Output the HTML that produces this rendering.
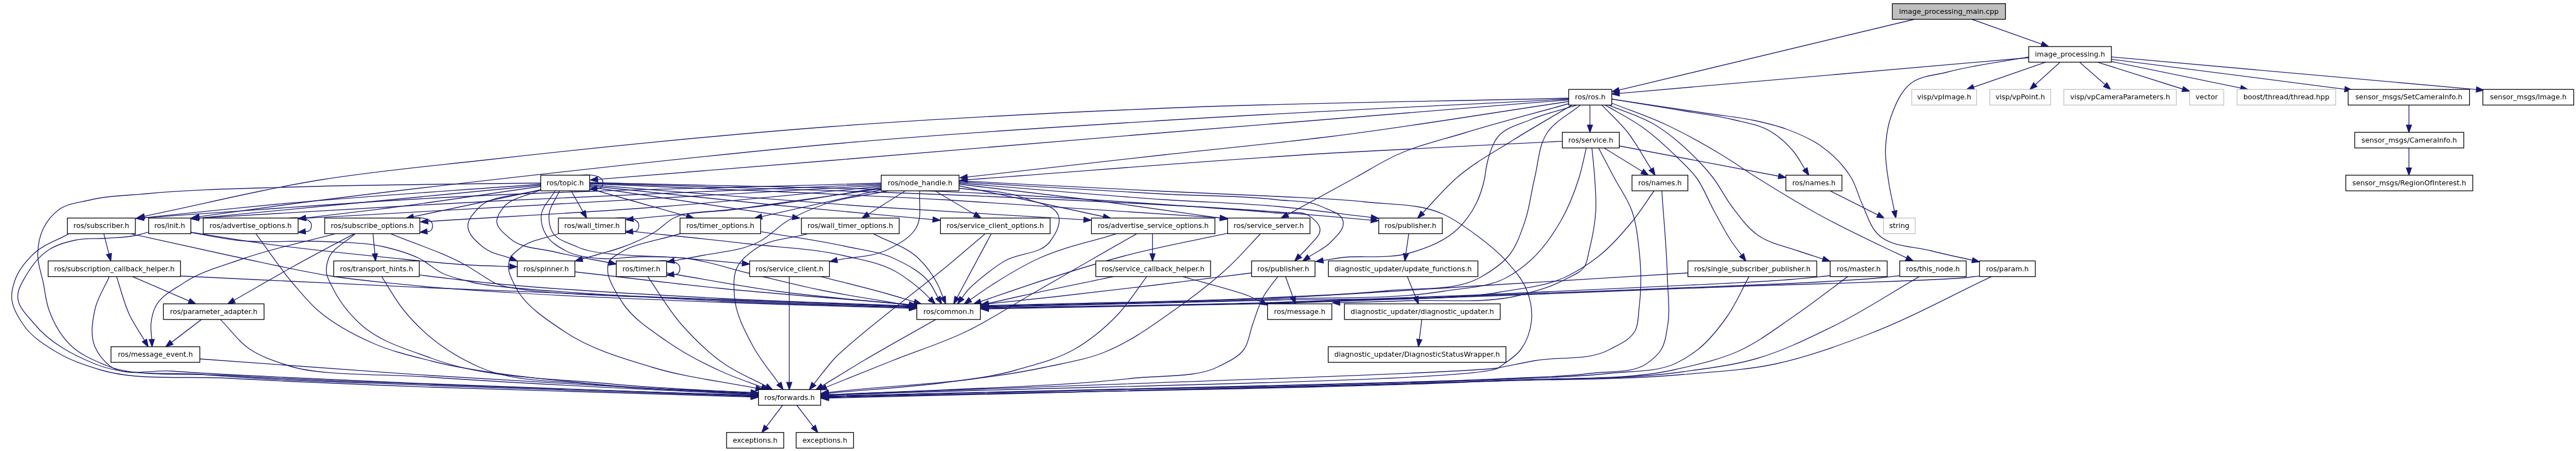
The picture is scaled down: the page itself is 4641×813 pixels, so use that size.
<!DOCTYPE html><html><head><meta charset="utf-8"><title>image_processing_main.cpp include graph</title>
<style>html,body{margin:0;padding:0;background:#fff}svg{display:block;will-change:transform}text{font-family:"DejaVu Sans","Liberation Sans",sans-serif;font-size:12.7px;fill:#000;text-anchor:middle}.e{fill:none;stroke:#191970;stroke-width:1.33}.a{fill:#191970;stroke:#191970;stroke-width:1.33;stroke-linejoin:miter}.n{fill:#fff;stroke:#000;stroke-width:1.33}.g{fill:#fff;stroke:#bfbfbf;stroke-width:1.33}.r{fill:#bfbfbf;stroke:#000;stroke-width:1.33}</style></head><body>
<svg width="4641" height="813" viewBox="0 0 4641 813">
<path class="e" d="M3448.0,35.0L2916.9,162.4"/>
<polygon class="a" points="2915.8,157.8 2904.0,165.5 2918.0,167.0"/>
<path class="e" d="M3553.0,35.0L3678.5,79.6"/>
<polygon class="a" points="3676.9,84.1 3691.0,84.1 3680.0,75.2"/>
<path class="e" d="M3655.0,104.0L2917.2,168.3"/>
<polygon class="a" points="2916.8,163.7 2904.0,169.5 2917.7,173.0"/>
<path class="e" d="M3655.0,102.6C3606.0,111.7 3556.1,117.1 3508.0,130.0C3486.1,135.9 3460.9,136.1 3443.0,150.0C3424.6,164.3 3414.8,188.0 3407.0,210.0C3400.2,229.1 3397.7,249.7 3397.0,270.0C3396.4,290.1 3400.0,310.1 3403.0,330.0C3405.6,346.9 3409.7,363.5 3413.0,380.3"/>
<polygon class="a" points="3408.4,381.2 3415.6,393.3 3417.6,379.3"/>
<path class="e" d="M3685.5,112.1L3555.6,157.1"/>
<polygon class="a" points="3554.0,152.6 3543.0,161.4 3557.1,161.5"/>
<path class="e" d="M3711.6,112.1L3666.9,152.5"/>
<polygon class="a" points="3663.7,149.0 3657.0,161.4 3670.0,156.0"/>
<path class="e" d="M3746.5,112.1L3792.7,152.6"/>
<polygon class="a" points="3789.6,156.2 3802.7,161.4 3795.8,149.1"/>
<path class="e" d="M3779.0,112.1L3932.3,160.5"/>
<polygon class="a" points="3930.9,165.0 3945.0,164.5 3933.7,156.0"/>
<path class="e" d="M3800.0,110.0L4037.0,158.7"/>
<polygon class="a" points="4036.0,163.3 4050.0,161.4 4037.9,154.1"/>
<path class="e" d="M3804.0,106.8L4224.5,160.8"/>
<polygon class="a" points="4223.9,165.5 4237.7,162.5 4225.1,156.1"/>
<path class="e" d="M3804.0,102.6L4461.6,161.3"/>
<polygon class="a" points="4461.1,166.0 4474.8,162.5 4462.0,156.6"/>
<path class="e" d="M4340.0,189.4L4340.0,225.4"/>
<polygon class="a" points="4335.3,225.4 4340.0,238.7 4344.7,225.4"/>
<path class="e" d="M4340.0,266.7L4340.0,302.7"/>
<polygon class="a" points="4335.3,302.7 4340.0,316.0 4344.7,302.7"/>
<path class="e" d="M2826.0,177.0C2583.3,183.0 2340.5,185.0 2098.0,195.0C1898.5,203.3 1699.1,213.0 1500.0,228.0C1292.3,243.7 1085.0,264.7 878.0,288.0C778.2,299.2 678.1,308.0 579.0,324.0C471.8,341.3 366.4,367.9 260.0,389.8"/>
<polygon class="a" points="259.1,385.2 247.0,392.5 261.0,394.4"/>
<path class="e" d="M2826.0,178.5C2583.3,191.3 2340.5,201.8 2098.0,217.0C1898.6,229.5 1699.1,241.8 1500.0,259.5C1332.4,274.4 1165.2,293.0 998.0,311.6C838.2,329.4 647.3,351.4 519.0,368.5C465.5,375.6 412.1,383.3 358.7,390.7"/>
<polygon class="a" points="358.0,386.0 345.5,392.5 359.3,395.3"/>
<path class="e" d="M2826.0,180.0C2583.3,199.7 2340.6,219.0 2098.0,239.0C1898.6,255.4 1699.4,272.6 1500.0,289.0C1358.9,300.6 1217.8,311.9 1076.8,323.4"/>
<polygon class="a" points="1076.4,318.7 1063.5,324.5 1077.1,328.1"/>
<path class="e" d="M2826.0,183.0C2683.3,204.0 2541.1,228.1 2398.0,246.0C2298.2,258.5 2198.0,267.9 2098.0,279.0C1979.6,292.2 1861.1,305.7 1742.7,319.1"/>
<polygon class="a" points="1742.2,314.4 1729.5,320.6 1743.2,323.8"/>
<path class="e" d="M2826.0,187.0C2763.0,204.7 2699.5,220.8 2637.0,240.0C2596.8,252.4 2555.3,261.7 2517.0,279.0C2491.0,290.8 2467.0,306.3 2442.0,320.0C2401.2,342.3 2360.4,364.6 2319.7,386.9"/>
<polygon class="a" points="2317.4,382.8 2308.0,393.3 2321.9,391.0"/>
<path class="e" d="M2832.0,189.4C2797.0,210.3 2761.5,230.3 2727.0,252.0C2692.4,273.8 2655.9,293.3 2625.0,320.0C2602.6,339.3 2583.8,362.5 2563.3,383.7"/>
<polygon class="a" points="2559.9,380.5 2554.0,393.3 2566.6,387.0"/>
<path class="e" d="M2841.0,189.4C2813.0,198.3 2784.0,204.5 2757.0,216.0C2737.4,224.3 2714.2,229.1 2700.0,245.0C2686.9,259.8 2681.3,284.2 2678.0,300.0C2676.6,306.6 2676.3,313.4 2675.0,320.0C2671.8,335.9 2666.6,353.0 2659.0,368.0C2650.8,384.2 2640.0,399.3 2627.0,412.0C2603.7,434.7 2571.2,446.7 2540.0,456.0C2501.6,467.4 2449.2,460.2 2420.0,464.0C2407.8,465.6 2395.8,467.7 2383.6,469.5"/>
<polygon class="a" points="2382.9,464.9 2370.5,471.5 2384.4,474.2"/>
<path class="e" d="M2847.0,189.4C2827.0,206.3 2801.3,218.1 2787.0,240.0C2771.9,263.2 2771.7,293.2 2765.0,320.0C2758.4,346.5 2756.1,374.2 2747.0,400.0C2739.6,420.8 2732.8,442.8 2719.0,460.0C2705.3,477.0 2686.0,489.2 2667.0,500.0C2621.3,525.8 2555.9,518.1 2500.0,524.0C2433.6,531.0 2366.7,532.6 2300.0,536.0C2139.9,544.2 1953.9,545.8 1780.8,550.6"/>
<polygon class="a" points="1780.7,545.9 1767.5,551.0 1780.9,555.3"/>
<path class="e" d="M2864.5,189.4L2864.5,225.4"/>
<polygon class="a" points="2859.8,225.4 2864.5,238.7 2869.2,225.4"/>
<path class="e" d="M2886.0,189.4C2901.3,205.6 2918.1,220.5 2932.0,238.0C2948.5,258.7 2960.5,282.5 2974.8,304.8"/>
<polygon class="a" points="2970.9,307.3 2982.0,316.0 2978.8,302.3"/>
<path class="e" d="M2892.0,189.4C2914.7,202.9 2938.6,214.5 2960.0,230.0C2981.4,245.5 3001.1,263.5 3020.0,282.0C3032.5,294.2 3045.6,306.0 3056.0,320.0C3069.6,338.2 3077.0,360.2 3088.0,380.0C3098.4,398.8 3107.9,418.2 3120.0,436.0C3125.6,444.2 3131.7,451.9 3137.6,459.9"/>
<polygon class="a" points="3133.8,462.7 3145.5,470.6 3141.4,457.1"/>
<path class="e" d="M2898.0,189.4C2925.3,200.9 2954.5,208.8 2980.0,224.0C3004.9,238.8 3027.2,257.8 3048.0,278.0C3061.5,291.2 3074.4,305.1 3086.0,320.0C3098.7,336.3 3107.4,355.5 3120.0,372.0C3134.2,390.6 3147.9,410.5 3167.0,424.0C3188.0,438.9 3214.7,443.5 3239.0,452.0C3254.0,457.3 3269.2,461.9 3284.4,466.9"/>
<polygon class="a" points="3282.9,471.3 3297.0,471.0 3285.8,462.4"/>
<path class="e" d="M2904.0,186.0C2936.0,198.7 2968.8,209.6 3000.0,224.0C3034.4,239.9 3067.5,258.5 3100.0,278.0C3122.1,291.3 3143.2,306.3 3165.0,320.0C3202.5,343.5 3240.2,366.8 3279.0,388.0C3318.2,409.5 3370.3,434.3 3399.0,448.0C3411.0,453.7 3423.0,459.3 3435.0,464.9"/>
<polygon class="a" points="3433.0,469.2 3447.0,470.6 3437.0,460.7"/>
<path class="e" d="M2904.0,178.7C2949.3,186.1 2994.7,193.3 3040.0,201.0C3066.7,205.6 3093.7,208.5 3120.0,215.0C3143.7,220.9 3169.0,224.4 3190.0,237.0C3206.0,246.6 3220.3,259.5 3232.0,274.0C3239.7,283.5 3245.2,294.5 3251.8,304.8"/>
<polygon class="a" points="3247.9,307.4 3259.0,316.0 3255.8,302.3"/>
<path class="e" d="M2904.0,178.7C2962.7,187.5 3021.3,196.2 3080.0,205.0C3106.7,209.0 3133.7,211.2 3160.0,217.0C3179.9,221.3 3199.9,225.9 3219.0,233.0C3239.8,240.7 3260.8,249.3 3279.0,262.0C3293.7,272.2 3307.5,284.3 3319.0,298.0C3324.8,304.9 3330.3,312.3 3335.0,320.0C3344.0,334.8 3347.7,352.3 3355.0,368.0C3363.5,386.4 3368.9,407.5 3383.0,422.0C3406.4,446.0 3446.6,443.4 3479.0,452.0C3503.6,458.5 3528.6,463.4 3553.4,469.0"/>
<polygon class="a" points="3552.4,473.6 3566.4,472.0 3554.5,464.5"/>
<path class="e" d="M2814.7,254.7C2675.8,261.8 2536.8,267.7 2398.0,276.0C2179.4,289.1 1961.2,308.0 1742.8,324.0"/>
<polygon class="a" points="1742.4,319.3 1729.5,325.0 1743.1,328.7"/>
<path class="e" d="M2890.0,266.7L2958.7,309.0"/>
<polygon class="a" points="2956.2,313.0 2970.0,316.0 2961.1,305.0"/>
<path class="e" d="M2917.0,263.0L3204.4,317.5"/>
<polygon class="a" points="3203.6,322.1 3217.5,320.0 3205.3,312.9"/>
<path class="e" d="M2858.0,266.7C2853.7,284.5 2850.4,302.5 2845.0,320.0C2836.4,347.7 2825.6,375.0 2811.0,400.0C2796.6,424.6 2780.1,448.7 2759.0,468.0C2745.6,480.2 2730.9,491.3 2715.0,500.0C2680.5,518.8 2638.7,518.5 2600.0,525.0C2507.2,540.6 2400.0,535.1 2300.0,539.0C2127.0,545.8 1953.9,548.1 1780.8,552.7"/>
<polygon class="a" points="1780.7,548.0 1767.5,553.0 1780.9,557.3"/>
<path class="e" d="M2868.0,266.7C2869.7,284.5 2871.8,302.2 2873.0,320.0C2874.3,340.0 2876.1,360.0 2875.0,380.0C2873.6,404.3 2868.7,429.4 2863.0,452.0C2860.6,461.4 2860.1,471.8 2855.0,480.0C2847.4,492.2 2831.6,497.0 2819.0,504.0C2794.3,517.6 2766.4,525.0 2739.0,532.0C2674.7,548.5 2606.4,539.5 2540.0,542.0C2498.0,543.6 2455.9,544.4 2413.9,545.6"/>
<polygon class="a" points="2413.8,540.9 2400.6,546.0 2414.0,550.3"/>
<path class="e" d="M2880.0,266.7C2889.3,284.5 2898.6,302.3 2908.0,320.0C2918.6,340.0 2932.4,358.6 2940.0,380.0C2947.9,402.4 2950.4,426.4 2953.0,450.0C2956.9,485.1 2957.1,523.8 2953.0,556.0C2951.3,569.4 2952.3,584.0 2946.0,596.0C2937.1,612.9 2916.8,621.0 2900.0,630.0C2860.2,651.4 2810.4,642.0 2766.0,650.0C2743.9,654.0 2722.0,658.8 2700.0,663.0C2647.1,673.0 1895.2,695.3 1492.8,711.5"/>
<polygon class="a" points="1492.6,706.8 1479.5,712.0 1493.0,716.2"/>
<path class="e" d="M2980.0,344.0C2966.7,362.7 2954.5,382.3 2940.0,400.0C2921.8,422.2 2902.6,444.2 2880.0,462.0C2861.2,476.8 2840.7,489.9 2819.0,500.0C2782.1,517.1 2740.0,519.7 2700.0,527.0C2603.9,544.4 2433.4,536.9 2300.0,541.0C2127.0,546.3 1953.9,549.5 1780.8,553.7"/>
<polygon class="a" points="1780.7,549.0 1767.5,554.0 1780.9,558.4"/>
<path class="e" d="M2994.0,344.0C2997.3,396.0 3002.8,447.9 3004.0,500.0C3004.7,530.0 3009.5,560.5 3004.0,590.0C3001.5,603.6 3000.2,618.2 2993.0,630.0C2986.5,640.7 2976.3,648.9 2966.0,656.0C2941.4,673.1 2899.5,668.7 2866.0,673.0C2811.0,680.0 2755.3,679.9 2700.0,683.0C2567.2,690.4 1895.2,703.4 1492.8,713.7"/>
<polygon class="a" points="1492.7,709.0 1479.5,714.0 1492.9,718.4"/>
<path class="e" d="M3297.0,344.0L3383.1,387.3"/>
<polygon class="a" points="3381.0,391.5 3395.0,393.3 3385.2,383.1"/>
<path class="e" d="M3041.0,492.0C2927.3,499.0 2813.7,506.1 2700.0,513.0C2566.7,521.1 2433.4,530.8 2300.0,537.0C2127.0,545.0 1953.9,546.8 1780.8,551.6"/>
<polygon class="a" points="1780.7,546.9 1767.5,552.0 1780.9,556.3"/>
<path class="e" d="M3151.0,498.6C3138.0,522.4 3127.6,547.8 3112.0,570.0C3096.7,591.8 3080.0,613.5 3059.0,630.0C3046.6,639.7 3033.2,648.2 3019.0,655.0C2984.9,671.2 2939.9,668.4 2900.0,673.0C2833.7,680.6 2766.7,680.6 2700.0,684.0C2540.0,692.1 1895.2,704.4 1492.8,714.7"/>
<polygon class="a" points="1492.7,710.0 1479.5,715.0 1492.9,719.4"/>
<path class="e" d="M3297.0,497.0C3274.7,499.2 3252.4,501.6 3230.0,503.5C3176.3,508.1 3112.7,510.4 3054.0,513.5C2936.0,519.8 2818.0,525.0 2700.0,530.0C2566.7,535.6 2433.4,541.1 2300.0,545.0C2127.0,550.1 1953.9,551.5 1780.8,554.8"/>
<polygon class="a" points="1780.7,550.1 1767.5,555.0 1780.9,559.4"/>
<path class="e" d="M3329.0,498.6C3296.7,522.4 3265.2,547.4 3232.0,570.0C3199.4,592.2 3167.9,616.8 3132.0,633.0C3096.2,649.1 3057.3,657.3 3019.0,666.0C2927.2,687.0 2806.4,680.2 2700.0,686.0C2444.7,700.0 1895.2,705.8 1492.8,715.7"/>
<polygon class="a" points="1492.7,711.0 1479.5,716.0 1492.9,720.4"/>
<path class="e" d="M3422.6,497.0C3411.7,498.2 3400.9,499.4 3390.0,500.5C3363.9,503.1 3319.4,505.9 3284.0,508.0C3240.0,510.6 3196.0,512.1 3152.0,514.0C3046.4,518.6 2850.7,525.9 2700.0,531.5C2566.7,536.5 2433.4,542.2 2300.0,546.0C2127.0,551.0 1953.9,552.5 1780.8,555.8"/>
<polygon class="a" points="1780.7,551.1 1767.5,556.0 1780.9,560.4"/>
<path class="e" d="M3458.0,498.6C3405.0,529.1 3354.0,563.3 3299.0,590.0C3255.7,611.0 3212.2,632.5 3166.0,646.0C3122.8,658.7 3077.6,663.7 3033.0,670.0C2926.0,685.2 2811.0,681.2 2700.0,686.0C2433.5,697.5 1895.2,706.4 1492.8,716.7"/>
<polygon class="a" points="1492.7,712.0 1479.5,717.0 1492.9,721.4"/>
<path class="e" d="M3566.4,497.6C3555.9,498.7 3545.5,500.0 3535.0,501.0C3509.8,503.4 3455.7,505.3 3416.0,507.0C3372.0,508.9 3328.0,510.1 3284.0,511.5C3240.0,512.9 3196.0,514.1 3152.0,515.5C3046.4,518.9 2850.7,527.5 2700.0,533.0C2566.7,537.9 2433.4,543.3 2300.0,547.0C2127.0,551.8 1953.9,553.5 1780.8,556.8"/>
<polygon class="a" points="1780.7,552.1 1767.5,557.0 1780.9,561.4"/>
<path class="e" d="M3588.0,498.6C3513.7,533.4 3441.7,573.9 3365.0,603.0C3310.7,623.6 3255.8,643.9 3199.0,656.0C3144.5,667.6 3088.5,670.1 3033.0,675.0C2922.4,684.8 2811.0,683.3 2700.0,687.0C2433.6,696.0 1895.2,707.4 1492.8,717.7"/>
<polygon class="a" points="1492.7,713.0 1479.5,718.0 1492.9,722.4"/>
<path class="e" d="M2538.0,421.3L2532.9,457.4"/>
<polygon class="a" points="2528.2,456.8 2531.0,470.6 2537.5,458.1"/>
<path class="e" d="M2535.5,498.6L2550.5,535.6"/>
<polygon class="a" points="2546.1,537.3 2555.5,547.9 2554.9,533.8"/>
<path class="e" d="M2561.5,575.9L2557.1,612.0"/>
<polygon class="a" points="2552.4,611.4 2555.5,625.2 2561.8,612.6"/>
<path class="e" d="M2254.8,492.0C2196.5,499.3 2138.3,506.9 2080.0,514.0C2020.0,521.3 1960.0,528.4 1900.0,535.0C1860.3,539.4 1820.5,543.4 1780.7,547.6"/>
<polygon class="a" points="1780.2,542.9 1767.5,549.0 1781.2,552.3"/>
<path class="e" d="M2302.0,498.6C2293.3,510.7 2283.2,522.0 2276.0,535.0C2267.5,550.3 2263.0,567.6 2257.0,584.0C2251.4,599.2 2250.6,616.9 2241.0,630.0C2230.0,644.9 2211.4,652.5 2195.0,661.0C2155.5,681.3 2091.1,676.2 2039.0,682.0C1926.5,694.5 1813.1,697.5 1700.0,703.0C1631.0,706.4 1561.9,708.6 1492.8,711.5"/>
<polygon class="a" points="1492.6,706.8 1479.5,712.0 1493.0,716.2"/>
<path class="e" d="M2316.0,498.6L2329.4,535.4"/>
<polygon class="a" points="2325.0,537.0 2334.0,547.9 2333.9,533.8"/>
<path class="e" d="M2212.0,420.4C2150.3,433.9 2088.1,444.9 2027.0,461.0C1974.5,474.8 1922.7,491.2 1871.0,508.0C1836.0,519.4 1801.4,531.7 1766.6,543.6"/>
<polygon class="a" points="1765.1,539.2 1754.0,547.9 1768.1,548.1"/>
<path class="e" d="M2271.0,421.3C2252.3,440.9 2234.7,461.5 2215.0,480.0C2184.6,508.6 2151.2,534.0 2117.0,558.0C2075.7,587.1 2034.2,617.9 1987.0,636.0C1953.6,648.8 1917.9,654.5 1883.0,662.0C1822.7,674.9 1761.2,682.4 1700.0,690.0C1631.2,698.5 1561.8,702.5 1492.7,708.8"/>
<polygon class="a" points="1492.3,704.1 1479.5,710.0 1493.2,713.5"/>
<path class="e" d="M2076.4,421.3L2076.4,457.3"/>
<polygon class="a" points="2071.7,457.3 2076.4,470.6 2081.1,457.3"/>
<path class="e" d="M2011.5,421.3C1964.7,436.2 1915.6,445.3 1871.0,466.0C1841.1,479.9 1812.7,497.1 1785.0,515.0C1772.4,523.1 1760.3,531.9 1748.0,540.4"/>
<polygon class="a" points="1745.3,536.5 1737.0,547.9 1750.6,544.3"/>
<path class="e" d="M2048.0,421.3C2019.7,437.5 1991.3,453.7 1963.0,470.0C1928.3,489.9 1893.7,510.1 1859.0,530.0C1819.4,552.8 1781.2,578.2 1740.0,598.0C1697.4,618.5 1651.9,632.5 1608.0,650.0C1568.1,665.9 1528.2,682.0 1488.3,698.0"/>
<polygon class="a" points="1486.6,693.7 1476.0,703.0 1490.1,702.4"/>
<path class="e" d="M2006.0,498.6C1950.7,510.2 1887.7,522.9 1840.0,533.5C1820.1,537.9 1800.3,542.5 1780.5,547.0"/>
<polygon class="a" points="1779.4,542.5 1767.5,550.0 1781.5,551.6"/>
<path class="e" d="M2066.0,498.6C2048.3,521.7 2033.2,547.1 2013.0,568.0C1989.9,591.9 1963.9,613.6 1935.0,630.0C1903.0,648.1 1866.3,656.6 1831.0,667.0C1746.3,692.0 1605.5,693.9 1492.7,707.4"/>
<polygon class="a" points="1492.1,702.8 1479.5,709.0 1493.3,712.1"/>
<path class="e" d="M2131.0,498.6C2170.7,510.2 2232.1,525.4 2250.0,533.5C2257.4,536.9 2264.7,540.6 2272.0,544.2"/>
<polygon class="a" points="2270.0,548.4 2284.0,550.0 2274.1,540.0"/>
<path class="e" d="M1786.0,421.3L1724.3,536.2"/>
<polygon class="a" points="1720.2,534.0 1718.0,547.9 1728.4,538.4"/>
<path class="e" d="M1775.0,421.3C1756.0,437.5 1737.1,453.8 1718.0,470.0C1672.3,508.8 1528.0,617.2 1500.0,650.0C1488.3,663.7 1477.5,678.1 1466.3,692.1"/>
<polygon class="a" points="1462.6,689.2 1458.0,702.5 1470.0,695.1"/>
<path class="e" d="M1684.5,344.0L1756.2,386.5"/>
<polygon class="a" points="1753.8,390.6 1767.6,393.3 1758.6,382.5"/>
<path class="e" d="M1726.0,339.0C1765.7,345.0 1807.8,342.1 1845.0,357.0C1867.5,366.0 1904.5,369.1 1908.0,393.0C1910.2,407.8 1900.7,422.8 1892.0,435.0C1874.4,459.5 1834.8,455.3 1809.0,471.0C1784.5,485.9 1749.6,515.5 1742.0,525.0C1738.8,529.0 1736.0,533.1 1732.9,537.2"/>
<polygon class="a" points="1729.2,534.4 1725.0,547.9 1736.7,540.0"/>
<path class="e" d="M1631.0,344.0L1564.2,386.2"/>
<polygon class="a" points="1561.7,382.2 1553.0,393.3 1566.8,390.2"/>
<path class="e" d="M1657.0,344.0C1655.0,366.0 1661.7,390.7 1651.0,410.0C1640.4,429.1 1618.5,440.1 1599.0,450.0C1571.4,464.0 1538.3,462.5 1508.0,468.8"/>
<polygon class="a" points="1507.1,464.2 1495.0,471.5 1509.0,473.4"/>
<path class="e" d="M1728.0,335.0C1775.3,345.0 1822.7,354.9 1870.0,365.0C1909.4,373.4 1948.7,382.0 1988.0,390.5"/>
<polygon class="a" points="1987.0,395.1 2001.0,393.3 1989.0,385.9"/>
<path class="e" d="M1728.0,332.0C1818.7,343.0 1909.5,352.9 2000.0,365.0C2066.2,373.8 2132.2,383.8 2198.3,393.1"/>
<polygon class="a" points="2197.7,397.8 2211.5,395.0 2199.0,388.5"/>
<path class="e" d="M1728.0,330.0C1852.0,340.0 1975.9,351.7 2100.0,360.0C2166.6,364.5 2233.5,366.0 2300.0,372.0C2357.0,377.2 2413.6,385.3 2470.4,392.0"/>
<polygon class="a" points="2469.8,396.6 2483.6,393.5 2470.9,387.3"/>
<path class="e" d="M1728.0,328.0C1852.0,335.3 1976.0,343.4 2100.0,350.0C2166.7,353.5 2235.8,352.2 2300.0,360.0C2326.8,363.2 2355.6,360.6 2380.0,372.0C2394.7,378.9 2417.8,383.9 2420.0,400.0C2421.9,413.9 2407.6,425.7 2398.0,436.0C2387.1,447.8 2371.3,454.1 2358.0,463.1"/>
<polygon class="a" points="2355.4,459.2 2347.0,470.6 2360.6,467.0"/>
<path class="e" d="M1728.0,326.0C1852.0,332.3 1976.0,339.2 2100.0,345.0C2166.7,348.1 2233.4,350.4 2300.0,354.0C2353.4,356.9 2406.9,358.0 2460.0,364.0C2506.9,369.3 2557.0,366.4 2600.0,386.0C2621.5,395.8 2641.0,409.9 2660.0,424.0C2679.5,438.5 2698.9,453.7 2715.0,472.0C2728.9,487.8 2743.6,504.3 2751.0,524.0C2757.7,541.6 2761.2,561.3 2759.0,580.0C2756.9,597.7 2750.4,615.6 2740.0,630.0C2729.9,644.0 2713.6,652.3 2700.0,663.0C2667.3,688.6 1895.2,696.0 1492.8,712.5"/>
<polygon class="a" points="1492.6,707.8 1479.5,713.0 1493.0,717.2"/>
<path class="e" d="M1588.0,342.0L1372.4,390.4"/>
<polygon class="a" points="1371.3,385.8 1359.4,393.3 1373.4,395.0"/>
<path class="e" d="M1588.0,338.0C1525.3,348.0 1462.9,359.5 1400.0,368.0C1313.9,379.7 1227.2,385.8 1140.7,394.6"/>
<polygon class="a" points="1140.2,390.0 1127.5,396.0 1141.2,399.3"/>
<path class="e" d="M1600.0,344.0C1560.0,352.7 1518.4,355.8 1480.0,370.0C1459.0,377.8 1438.2,386.5 1419.0,398.0C1401.2,408.6 1387.2,425.1 1369.0,435.0C1336.1,452.8 1296.2,454.1 1260.0,461.5C1244.9,464.6 1229.7,467.2 1214.6,470.0"/>
<polygon class="a" points="1213.7,465.4 1201.5,472.5 1215.4,474.7"/>
<path class="e" d="M1588.0,340.0C1498.7,352.7 1406.4,365.4 1320.0,378.0C1284.0,383.3 1239.9,378.3 1212.0,394.0C1200.4,400.5 1191.3,410.9 1180.0,418.0C1161.4,429.8 1140.8,438.5 1120.0,446.0C1106.9,450.7 1093.4,454.1 1080.0,458.0C1069.6,461.0 1059.2,464.0 1048.8,466.9"/>
<polygon class="a" points="1047.5,462.4 1036.0,470.6 1050.1,471.5"/>
<path class="e" d="M1588.0,336.0C1458.7,348.0 1329.5,361.8 1200.0,372.0C1057.1,383.3 913.9,390.1 770.9,399.2"/>
<polygon class="a" points="770.6,394.5 757.6,400.0 771.2,403.9"/>
<path class="e" d="M1588.0,334.0C1392.0,345.3 1196.0,356.8 1000.0,368.0C850.3,376.5 700.5,384.8 550.8,393.3"/>
<polygon class="a" points="550.5,388.6 537.5,394.0 551.0,397.9"/>
<path class="e" d="M1588.0,332.0C1358.7,342.0 1129.2,350.2 900.0,362.0C719.2,371.3 538.5,382.8 357.8,393.2"/>
<polygon class="a" points="357.5,388.5 344.5,394.0 358.0,397.9"/>
<path class="e" d="M1588.0,330.0C1325.3,338.7 1062.4,342.0 800.0,356.0C619.4,365.7 439.2,380.4 258.8,392.6"/>
<polygon class="a" points="258.5,387.9 245.5,393.5 259.1,397.3"/>
<path class="e" d="M1029.0,344.0L1050.4,381.7"/>
<polygon class="a" points="1046.3,384.1 1057.0,393.3 1054.5,379.4"/>
<path class="e" d="M1062.0,340.0C1091.3,348.3 1120.7,356.7 1150.0,365.0C1179.1,373.2 1208.1,381.5 1237.2,389.7"/>
<polygon class="a" points="1235.9,394.2 1250.0,393.3 1238.5,385.2"/>
<path class="e" d="M1062.0,337.0C1124.7,346.3 1187.3,355.7 1250.0,365.0C1309.3,373.8 1368.6,382.6 1427.8,391.4"/>
<polygon class="a" points="1427.2,396.0 1441.0,393.3 1428.5,386.7"/>
<path class="e" d="M1062.0,335.0C1174.7,346.7 1287.3,359.0 1400.0,370.0C1493.5,379.1 1587.2,387.2 1680.8,395.8"/>
<polygon class="a" points="1680.3,400.5 1694.0,397.0 1681.2,391.1"/>
<path class="e" d="M1062.0,333.0C1228.0,346.0 1393.9,360.5 1560.0,372.0C1690.8,381.0 1821.8,388.1 1952.7,396.2"/>
<polygon class="a" points="1952.4,400.9 1966.0,397.0 1953.0,391.5"/>
<path class="e" d="M1062.0,331.0C1274.7,340.7 1487.5,347.9 1700.0,360.0C1866.2,369.4 2032.2,381.8 2198.2,392.6"/>
<polygon class="a" points="2197.9,397.3 2211.5,393.5 2198.5,387.9"/>
<path class="e" d="M1062.0,330.0C1308.0,338.3 1554.1,343.7 1800.0,355.0C1966.7,362.6 2163.6,371.3 2300.0,382.0C2356.8,386.5 2413.6,391.9 2470.4,396.8"/>
<polygon class="a" points="2469.9,401.5 2483.6,398.0 2470.8,392.2"/>
<path class="e" d="M1062.0,329.0C1308.0,336.0 1554.2,337.2 1800.0,350.0C1966.8,358.7 2252.0,379.4 2300.0,384.0C2320.0,385.9 2343.9,378.0 2360.0,390.0C2367.6,395.7 2376.5,402.7 2378.0,412.0C2380.1,424.4 2366.0,434.3 2358.0,444.0C2353.0,450.1 2347.1,455.3 2341.7,461.0"/>
<polygon class="a" points="2338.3,457.7 2332.5,470.6 2345.1,464.3"/>
<path class="e" d="M1008.0,344.0C1001.7,359.3 989.1,373.4 989.0,390.0C988.9,399.5 990.5,409.6 995.0,418.0C1003.3,433.4 1024.3,437.4 1040.0,445.0C1077.8,463.3 1173.3,459.6 1240.0,466.0C1272.4,469.1 1304.8,471.9 1337.3,474.8"/>
<polygon class="a" points="1336.8,479.5 1350.5,476.0 1337.7,470.1"/>
<path class="e" d="M975.0,342.0C952.3,352.7 919.7,356.7 907.0,374.0C901.7,381.2 895.3,389.1 895.0,398.0C894.6,411.3 909.0,421.2 919.0,430.0C939.8,448.5 972.0,447.3 999.0,454.0C1025.4,460.6 1064.3,467.2 1079.0,470.0C1085.1,471.2 1091.3,472.3 1097.4,473.5"/>
<polygon class="a" points="1096.6,478.1 1110.5,476.0 1098.3,468.9"/>
<path class="e" d="M1000.0,344.0C991.7,359.3 975.7,372.6 975.0,390.0C974.6,401.0 977.7,412.4 983.0,422.0C990.5,435.7 1005.3,444.6 1019.0,452.0C1037.4,461.9 1059.2,463.9 1080.0,466.0C1103.2,468.3 1126.6,463.2 1150.0,463.0C1179.3,462.7 1208.9,462.4 1238.0,466.0C1275.1,470.5 1310.7,483.4 1347.0,492.0C1391.0,502.4 1434.7,514.0 1479.0,523.0C1522.8,531.9 1589.1,542.0 1611.0,546.0C1620.1,547.7 1629.3,549.4 1638.4,551.1"/>
<polygon class="a" points="1637.6,555.7 1651.5,553.5 1639.3,546.5"/>
<path class="e" d="M975.0,342.0C937.7,352.7 883.2,351.5 863.0,374.0C854.6,383.4 843.7,393.4 843.0,406.0C842.0,422.2 858.4,435.7 871.0,446.0C884.5,456.9 903.1,459.1 919.2,465.6"/>
<polygon class="a" points="917.4,469.9 931.5,470.6 920.9,461.2"/>
<path class="e" d="M975.0,342.0L744.7,390.6"/>
<polygon class="a" points="743.7,386.0 731.7,393.3 745.7,395.2"/>
<path class="e" d="M974.0,336.0C882.7,349.0 791.5,363.3 700.0,375.0C650.3,381.4 600.5,386.9 550.7,392.9"/>
<polygon class="a" points="550.1,388.2 537.5,394.5 551.3,397.6"/>
<path class="e" d="M974.0,334.0C849.3,346.0 724.7,358.0 600.0,370.0C519.2,377.8 438.5,385.5 357.7,393.2"/>
<polygon class="a" points="357.3,388.6 344.5,394.5 358.2,397.9"/>
<path class="e" d="M974.0,332.0C816.0,344.0 657.8,353.3 500.0,368.0C419.5,375.5 339.2,384.4 258.7,392.6"/>
<polygon class="a" points="258.3,388.0 245.5,394.0 259.2,397.3"/>
<path class="e" d="M974.0,330.0C916.0,330.7 858.0,331.2 800.0,332.0C710.7,333.3 621.3,334.1 532.0,337.0C443.3,339.8 351.0,341.0 266.0,349.0C230.6,352.3 194.6,352.6 160.0,361.0C141.7,365.5 121.2,366.9 106.0,378.0C94.1,386.7 84.5,398.8 78.0,412.0C71.0,426.1 68.4,442.3 68.0,458.0C67.6,475.6 74.5,492.7 78.0,510.0C81.2,526.0 82.5,542.6 88.0,558.0C96.8,582.8 110.6,607.2 130.0,625.0C147.4,640.9 170.3,649.8 192.0,659.0C244.1,681.1 340.6,672.0 415.0,677.0C535.8,685.1 657.0,688.1 778.0,693.0C969.7,700.7 1161.5,706.0 1353.2,712.5"/>
<polygon class="a" points="1353.0,717.2 1366.5,713.0 1353.4,707.9"/>
<path class="e" d="M187.0,421.3L196.3,457.7"/>
<polygon class="a" points="191.8,458.9 199.6,470.6 200.9,456.6"/>
<path class="e" d="M124.0,421.3C102.7,433.5 77.7,440.9 60.0,458.0C46.2,471.3 33.4,487.0 27.0,505.0C23.6,514.6 20.8,524.8 21.0,535.0C21.3,552.6 31.3,569.2 41.0,584.0C55.9,606.8 80.6,622.1 104.0,636.0C128.1,650.3 155.2,658.8 182.0,667.0C246.2,686.6 337.3,677.6 415.0,682.0C535.9,688.8 657.0,693.3 778.0,698.0C969.7,705.4 1161.5,709.7 1353.2,715.6"/>
<polygon class="a" points="1353.1,720.3 1366.5,716.0 1353.3,710.9"/>
<path class="e" d="M235.5,421.3C297.0,434.9 358.4,449.0 420.0,462.0C479.6,474.5 538.8,488.8 599.0,498.0C652.4,506.2 706.3,510.7 760.0,516.0C889.0,528.7 1119.9,537.8 1300.0,545.0C1412.7,549.5 1525.5,552.1 1638.2,555.6"/>
<polygon class="a" points="1638.1,560.3 1651.5,556.0 1638.4,550.9"/>
<path class="e" d="M267.8,418.3C259.2,420.5 250.7,423.3 242.0,425.0C225.3,428.3 208.0,428.2 191.0,429.5C172.4,430.9 153.3,429.0 135.0,433.0C119.4,436.4 103.5,440.6 90.0,449.0C72.3,459.9 58.4,477.1 48.0,495.0C40.8,507.4 31.8,520.6 32.0,535.0C32.2,554.1 49.9,569.1 62.0,584.0C89.4,617.8 130.7,639.5 171.0,656.0C230.5,680.4 298.9,669.7 363.0,675.0C501.0,686.4 639.6,689.2 778.0,695.0C969.7,703.1 1161.5,708.0 1353.2,714.5"/>
<polygon class="a" points="1353.0,719.2 1366.5,715.0 1353.4,709.9"/>
<path class="e" d="M343.8,418.6C388.9,425.6 433.8,433.3 479.0,439.6C549.8,449.4 620.9,456.5 692.0,463.6C745.0,468.9 797.9,475.2 851.0,478.0C873.4,479.2 895.8,479.7 918.2,480.5"/>
<polygon class="a" points="918.0,485.2 931.5,481.0 918.4,475.8"/>
<path class="e" d="M343.8,419.0C371.1,423.7 398.2,429.8 425.7,433.0C478.4,439.2 532.0,432.4 585.0,435.5C620.7,437.6 657.1,436.8 692.0,445.0C713.7,450.1 735.6,456.1 755.6,466.0C770.6,473.4 782.8,485.9 798.0,493.0C814.7,500.8 833.2,504.1 851.0,509.0C893.7,520.8 1150.1,535.2 1300.0,543.0C1412.6,548.9 1525.5,550.7 1638.2,554.5"/>
<polygon class="a" points="1638.0,559.2 1651.5,555.0 1638.4,549.8"/>
<path class="e" d="M461.0,421.3C483.0,450.9 503.1,481.9 527.0,510.0C541.1,526.5 554.8,543.6 571.0,558.0C601.1,584.8 637.9,604.0 675.0,620.0C707.9,634.2 743.3,642.0 778.0,651.0C861.3,672.6 992.1,685.1 1100.0,695.0C1184.2,702.7 1268.8,704.5 1353.2,709.3"/>
<polygon class="a" points="1353.0,713.9 1366.5,710.0 1353.5,704.6"/>
<path class="e" d="M672.0,421.3L675.4,457.4"/>
<polygon class="a" points="670.7,457.8 676.6,470.6 680.0,456.9"/>
<path class="e" d="M704.0,421.3C749.0,440.2 796.3,454.3 839.0,478.0C856.8,487.9 873.1,500.4 891.0,510.0C934.1,533.1 1163.5,533.6 1300.0,541.0C1412.6,547.1 1525.5,549.3 1638.2,553.5"/>
<polygon class="a" points="1638.0,558.2 1651.5,554.0 1638.4,548.8"/>
<path class="e" d="M640.0,421.3C624.0,436.2 598.5,447.6 592.0,466.0C589.3,473.7 587.4,481.9 588.0,490.0C588.7,500.7 595.2,510.3 600.0,520.0C611.4,543.2 629.3,565.7 649.0,584.0C683.9,616.5 733.3,629.4 778.0,646.0C879.7,683.7 992.1,681.4 1100.0,692.0C1184.2,700.3 1268.8,702.8 1353.2,708.2"/>
<polygon class="a" points="1352.9,712.8 1366.5,709.0 1353.5,703.5"/>
<path class="e" d="M604.0,421.3C549.0,436.2 492.8,447.1 439.0,466.0C402.3,478.9 363.4,488.5 331.0,510.0C312.5,522.3 289.7,533.0 280.0,553.0C275.4,562.6 273.0,573.4 272.0,584.0C271.1,593.3 272.9,602.6 273.4,611.9"/>
<polygon class="a" points="268.7,612.1 274.0,625.2 278.0,611.7"/>
<path class="e" d="M638.0,421.3C601.7,440.9 565.1,460.0 529.0,480.0C492.9,500.0 457.4,520.9 421.6,541.3"/>
<polygon class="a" points="419.2,537.2 410.0,547.9 423.9,545.4"/>
<path class="e" d="M197.0,498.6C188.3,518.4 175.5,536.9 171.0,558.0C166.4,579.8 162.3,604.4 171.0,625.0C176.6,638.1 186.1,649.8 197.0,659.0C223.2,681.1 273.0,666.0 311.0,669.0C402.3,676.3 622.3,685.2 778.0,692.0C969.7,700.4 1161.5,706.3 1353.2,713.5"/>
<polygon class="a" points="1353.0,718.2 1366.5,714.0 1353.4,708.8"/>
<path class="e" d="M210.0,498.6C217.8,521.7 223.0,546.0 233.5,568.0C241.1,583.9 251.4,598.5 260.3,613.7"/>
<polygon class="a" points="256.2,616.1 267.0,625.2 264.3,611.3"/>
<path class="e" d="M238.7,498.6L340.8,542.6"/>
<polygon class="a" points="338.9,546.9 353.0,547.9 342.6,538.3"/>
<path class="e" d="M325.0,497.5C476.0,504.7 627.0,512.3 778.0,519.0C952.0,526.7 1126.0,533.3 1300.0,540.0C1412.7,544.3 1525.5,548.3 1638.2,552.5"/>
<polygon class="a" points="1638.0,557.2 1651.5,553.0 1638.4,547.8"/>
<path class="e" d="M363.0,575.9L309.0,617.1"/>
<polygon class="a" points="306.1,613.4 298.4,625.2 311.8,620.9"/>
<path class="e" d="M397.0,575.9C415.0,593.9 429.8,615.8 451.0,630.0C471.5,643.7 495.7,651.0 519.0,659.0C574.9,678.3 691.6,673.7 778.0,680.0C969.5,693.9 1161.5,700.9 1353.2,711.3"/>
<polygon class="a" points="1353.0,716.0 1366.5,712.0 1353.5,706.6"/>
<path class="e" d="M360.0,647.0C499.3,657.0 638.6,667.8 778.0,677.0C969.6,689.6 1161.5,699.2 1353.2,710.2"/>
<polygon class="a" points="1353.0,714.9 1366.5,711.0 1353.5,705.5"/>
<path class="e" d="M755.4,495.7C796.6,500.5 837.7,505.7 879.0,510.0C978.0,520.3 1159.5,530.7 1300.0,538.0C1412.7,543.8 1525.5,547.0 1638.2,551.5"/>
<polygon class="a" points="1638.0,556.2 1651.5,552.0 1638.4,546.8"/>
<path class="e" d="M687.6,498.6C700.6,518.4 711.6,539.6 726.5,558.0C741.8,577.0 759.1,594.5 778.0,610.0C803.9,631.2 833.4,648.4 864.0,662.0C927.8,690.2 1001.6,685.5 1071.0,693.0C1164.7,703.1 1259.1,702.6 1353.2,707.3"/>
<polygon class="a" points="1353.0,712.0 1366.5,708.0 1353.5,702.6"/>
<path class="e" d="M1035.7,490.0C1123.8,500.0 1211.8,511.1 1300.0,520.0C1412.6,531.4 1525.5,539.2 1638.2,548.9"/>
<polygon class="a" points="1637.8,553.6 1651.5,550.0 1638.6,544.2"/>
<path class="e" d="M1007.0,421.0C984.3,429.3 956.8,432.0 939.0,446.0C931.6,451.8 922.7,457.3 919.0,466.0C917.1,470.4 916.4,475.2 916.0,480.0C915.1,491.4 924.2,508.1 931.0,521.0C947.2,551.9 986.3,577.4 1019.0,599.0C1065.8,630.0 1121.4,645.6 1175.0,662.0C1235.8,680.6 1299.6,687.2 1362.0,699.9"/>
<polygon class="a" points="1361.0,704.5 1375.0,702.5 1362.9,695.3"/>
<path class="e" d="M1126.9,415.8C1200.3,423.7 1273.7,430.9 1347.0,439.5C1405.7,446.4 1465.5,447.7 1523.0,461.5C1552.8,468.6 1584.0,473.5 1611.0,488.0C1630.3,498.4 1654.5,518.1 1664.0,527.0C1668.0,530.7 1671.7,534.7 1675.6,538.5"/>
<polygon class="a" points="1672.3,541.8 1685.0,547.9 1678.9,535.2"/>
<path class="e" d="M1226.0,421.0C1190.7,432.0 1140.5,439.7 1120.0,454.0C1111.5,460.0 1099.4,464.2 1096.0,474.0C1094.3,479.1 1094.8,484.7 1095.0,490.0C1095.5,502.8 1110.7,530.4 1123.0,548.0C1142.6,576.1 1173.0,595.3 1201.0,615.0C1233.3,637.7 1268.8,656.0 1305.0,672.0C1327.0,681.7 1350.0,689.2 1372.6,697.8"/>
<polygon class="a" points="1370.9,702.2 1385.0,702.5 1374.2,693.4"/>
<path class="e" d="M1370.4,417.6C1421.3,426.4 1472.6,432.8 1523.0,444.0C1552.5,450.5 1583.6,453.2 1611.0,466.0C1634.4,477.0 1660.5,490.6 1675.0,510.0C1681.0,518.1 1685.0,527.6 1689.9,536.3"/>
<polygon class="a" points="1685.8,538.7 1696.5,547.9 1694.0,534.0"/>
<path class="e" d="M1167.0,498.6C1187.0,527.1 1204.1,557.8 1227.0,584.0C1250.3,610.6 1275.9,635.9 1305.0,656.0C1328.4,672.2 1355.2,682.8 1380.3,696.2"/>
<polygon class="a" points="1378.1,700.4 1392.0,702.5 1382.5,692.1"/>
<path class="e" d="M1200.9,492.0C1267.3,503.0 1333.4,515.9 1400.0,525.0C1479.1,535.8 1558.8,541.4 1638.3,549.6"/>
<polygon class="a" points="1637.8,554.3 1651.5,551.0 1638.8,545.0"/>
<path class="e" d="M1455.0,421.3C1423.0,430.9 1385.7,429.9 1359.0,450.0C1347.1,458.9 1334.5,468.7 1328.0,482.0C1320.6,497.0 1322.2,515.3 1323.0,532.0C1324.7,565.0 1341.4,595.9 1357.0,625.0C1369.8,648.8 1387.9,669.4 1403.4,691.6"/>
<polygon class="a" points="1399.5,694.3 1411.0,702.5 1407.3,688.9"/>
<path class="e" d="M1573.6,421.3C1600.7,436.2 1632.8,444.4 1655.0,466.0C1669.2,479.8 1681.7,497.2 1690.0,514.0C1693.5,521.0 1695.9,528.4 1698.9,535.6"/>
<polygon class="a" points="1694.6,537.4 1704.0,547.9 1703.3,533.8"/>
<path class="e" d="M1422.0,498.6L1422.0,689.2"/>
<polygon class="a" points="1417.3,689.2 1422.0,702.5 1426.7,689.2"/>
<path class="e" d="M1479.0,498.6C1519.3,509.1 1562.1,519.1 1600.0,530.0C1615.8,534.5 1631.5,539.4 1647.3,544.1"/>
<polygon class="a" points="1645.9,548.6 1660.0,547.9 1648.6,539.6"/>
<path class="e" d="M1686.0,575.9C1642.7,600.6 1598.9,624.5 1556.0,650.0C1531.0,664.9 1506.2,680.4 1481.4,695.6"/>
<polygon class="a" points="1478.9,691.6 1470.0,702.5 1483.8,699.6"/>
<path class="e" d="M1410.0,730.5L1380.6,769.2"/>
<polygon class="a" points="1376.8,766.4 1372.5,779.8 1384.3,772.1"/>
<path class="e" d="M1435.5,730.5L1465.4,769.3"/>
<polygon class="a" points="1461.7,772.1 1473.5,779.8 1469.1,766.4"/>
<path class="e" d="M1044.3,316.0C1066.3,313.5 1086.3,317.0 1086.3,329.0C1086.3,339.0 1080.3,340.4 1075.1,340.2"/><polygon class="a" points="1074.7,335.2 1062.3,341.4 1075.9,344.5"/>
<path class="e" d="M519.1,393.3C541.1,390.8 561.1,394.3 561.1,406.3C561.1,416.3 555.1,417.7 549.9,417.5"/><polygon class="a" points="549.5,412.5 537.1,418.7 550.7,421.8"/>
<path class="e" d="M738.4,393.3C760.4,390.8 779.4,394.3 779.4,406.3C779.4,416.3 773.6,417.7 769.2,417.5"/><polygon class="a" points="768.8,412.5 756.4,418.7 770.0,421.8"/>
<path class="e" d="M1108.9,393.3C1130.9,390.8 1150.9,394.3 1150.9,406.3C1150.9,416.3 1144.9,417.7 1139.7,417.5"/><polygon class="a" points="1139.3,412.5 1126.9,418.7 1140.5,421.8"/>
<path class="e" d="M1182.9,470.6C1204.9,468.1 1224.9,471.6 1224.9,483.6C1224.9,493.6 1218.9,495.0 1213.7,494.8"/><polygon class="a" points="1213.3,489.8 1200.9,496.0 1214.5,499.1"/>
<rect class="r" x="3409.3" y="6.6" width="203.9" height="28.2"/>
<text x="3511.2" y="24.8">image_processing_main.cpp</text>
<rect class="n" x="3655.0" y="83.9" width="149.0" height="28.2"/>
<text x="3729.5" y="102.1">image_processing.h</text>
<rect class="n" x="2826.2" y="161.2" width="77.6" height="28.2"/>
<text x="2865.0" y="179.4">ros/ros.h</text>
<rect class="g" x="3444.3" y="161.2" width="116.7" height="28.2"/>
<text x="3502.7" y="179.4">visp/vpImage.h</text>
<rect class="g" x="3585.0" y="161.2" width="109.4" height="28.2"/>
<text x="3639.7" y="179.4">visp/vpPoint.h</text>
<rect class="g" x="3718.3" y="161.2" width="202.7" height="28.2"/>
<text x="3819.7" y="179.4">visp/vpCameraParameters.h</text>
<rect class="g" x="3945.0" y="161.2" width="61.4" height="28.2"/>
<text x="3975.7" y="179.4">vector</text>
<rect class="g" x="4030.4" y="161.2" width="177.6" height="28.2"/>
<text x="4119.2" y="179.4">boost/thread/thread.hpp</text>
<rect class="n" x="4230.5" y="161.2" width="218.8" height="28.2"/>
<text x="4339.9" y="179.4">sensor_msgs/SetCameraInfo.h</text>
<rect class="n" x="4473.2" y="161.2" width="163.6" height="28.2"/>
<text x="4555.0" y="179.4">sensor_msgs/Image.h</text>
<rect class="n" x="2814.7" y="238.5" width="102.7" height="28.2"/>
<text x="2866.1" y="256.7">ros/service.h</text>
<rect class="n" x="4242.4" y="238.5" width="196.4" height="28.2"/>
<text x="4340.6" y="256.7">sensor_msgs/CameraInfo.h</text>
<rect class="n" x="974.3" y="315.8" width="88.0" height="28.2"/>
<text x="1018.3" y="334.0">ros/topic.h</text>
<rect class="n" x="1587.6" y="315.8" width="140.2" height="28.2"/>
<text x="1657.7" y="334.0">ros/node_handle.h</text>
<rect class="n" x="2940.3" y="315.8" width="100.6" height="28.2"/>
<text x="2990.6" y="334.0">ros/names.h</text>
<rect class="n" x="3217.5" y="315.8" width="101.0" height="28.2"/>
<text x="3268.0" y="334.0">ros/names.h</text>
<rect class="n" x="4226.3" y="315.8" width="228.7" height="28.2"/>
<text x="4340.6" y="334.0">sensor_msgs/RegionOfInterest.h</text>
<rect class="n" x="121.4" y="393.1" width="122.4" height="28.2"/>
<text x="182.6" y="411.3">ros/subscriber.h</text>
<rect class="n" x="267.8" y="393.1" width="76.0" height="28.2"/>
<text x="305.8" y="411.3">ros/init.h</text>
<rect class="n" x="366.2" y="393.1" width="170.9" height="28.2"/>
<text x="451.6" y="411.3">ros/advertise_options.h</text>
<rect class="n" x="585.0" y="393.1" width="171.4" height="28.2"/>
<text x="670.7" y="411.3">ros/subscribe_options.h</text>
<rect class="n" x="1006.0" y="393.1" width="120.9" height="28.2"/>
<text x="1066.5" y="411.3">ros/wall_timer.h</text>
<rect class="n" x="1225.2" y="393.1" width="145.2" height="28.2"/>
<text x="1297.8" y="411.3">ros/timer_options.h</text>
<rect class="n" x="1443.8" y="393.1" width="176.2" height="28.2"/>
<text x="1531.9" y="411.3">ros/wall_timer_options.h</text>
<rect class="n" x="1694.4" y="393.1" width="197.5" height="28.2"/>
<text x="1793.2" y="411.3">ros/service_client_options.h</text>
<rect class="n" x="1966.4" y="393.1" width="222.4" height="28.2"/>
<text x="2077.6" y="411.3">ros/advertise_service_options.h</text>
<rect class="n" x="2211.6" y="393.1" width="148.5" height="28.2"/>
<text x="2285.8" y="411.3">ros/service_server.h</text>
<rect class="n" x="2484.0" y="393.1" width="114.5" height="28.2"/>
<text x="2541.2" y="411.3">ros/publisher.h</text>
<rect class="g" x="3393.4" y="393.1" width="57.0" height="28.2"/>
<text x="3421.9" y="411.3">string</text>
<rect class="n" x="86.7" y="470.4" width="238.6" height="28.2"/>
<text x="206.0" y="488.6">ros/subscription_callback_helper.h</text>
<rect class="n" x="601.2" y="470.4" width="154.2" height="28.2"/>
<text x="678.3" y="488.6">ros/transport_hints.h</text>
<rect class="n" x="932.0" y="470.4" width="103.7" height="28.2"/>
<text x="983.9" y="488.6">ros/spinner.h</text>
<rect class="n" x="1110.3" y="470.4" width="90.6" height="28.2"/>
<text x="1155.6" y="488.6">ros/timer.h</text>
<rect class="n" x="1350.6" y="470.4" width="143.8" height="28.2"/>
<text x="1422.5" y="488.6">ros/service_client.h</text>
<rect class="n" x="1974.2" y="470.4" width="206.8" height="28.2"/>
<text x="2077.6" y="488.6">ros/service_callback_helper.h</text>
<rect class="n" x="2254.8" y="470.4" width="114.4" height="28.2"/>
<text x="2312.0" y="488.6">ros/publisher.h</text>
<rect class="n" x="2393.3" y="470.4" width="269.3" height="28.2"/>
<text x="2527.9" y="488.6">diagnostic_updater/update_functions.h</text>
<rect class="n" x="3041.0" y="470.4" width="232.1" height="28.2"/>
<text x="3157.1" y="488.6">ros/single_subscriber_publisher.h</text>
<rect class="n" x="3297.3" y="470.4" width="102.7" height="28.2"/>
<text x="3348.7" y="488.6">ros/master.h</text>
<rect class="n" x="3422.6" y="470.4" width="119.8" height="28.2"/>
<text x="3482.5" y="488.6">ros/this_node.h</text>
<rect class="n" x="3566.4" y="470.4" width="100.5" height="28.2"/>
<text x="3616.7" y="488.6">ros/param.h</text>
<rect class="n" x="294.4" y="547.7" width="181.3" height="28.2"/>
<text x="385.0" y="565.9">ros/parameter_adapter.h</text>
<rect class="n" x="1651.7" y="547.7" width="114.6" height="28.2"/>
<text x="1709.0" y="565.9">ros/common.h</text>
<rect class="n" x="2283.6" y="547.7" width="115.9" height="28.2"/>
<text x="2341.6" y="565.9">ros/message.h</text>
<rect class="n" x="2422.2" y="547.7" width="280.6" height="28.2"/>
<text x="2562.5" y="565.9">diagnostic_updater/diagnostic_updater.h</text>
<rect class="n" x="200.0" y="625.0" width="160.0" height="28.2"/>
<text x="280.0" y="643.2">ros/message_event.h</text>
<rect class="n" x="2393.0" y="625.0" width="320.2" height="28.2"/>
<text x="2553.1" y="643.2">diagnostic_updater/DiagnosticStatusWrapper.h</text>
<rect class="n" x="1366.5" y="702.3" width="112.1" height="28.2"/>
<text x="1422.5" y="720.5">ros/forwards.h</text>
<rect class="n" x="1309.0" y="779.6" width="103.0" height="28.2"/>
<text x="1360.5" y="797.8">exceptions.h</text>
<rect class="n" x="1434.4" y="779.6" width="103.3" height="28.2"/>
<text x="1486.1" y="797.8">exceptions.h</text>
</svg></body></html>
